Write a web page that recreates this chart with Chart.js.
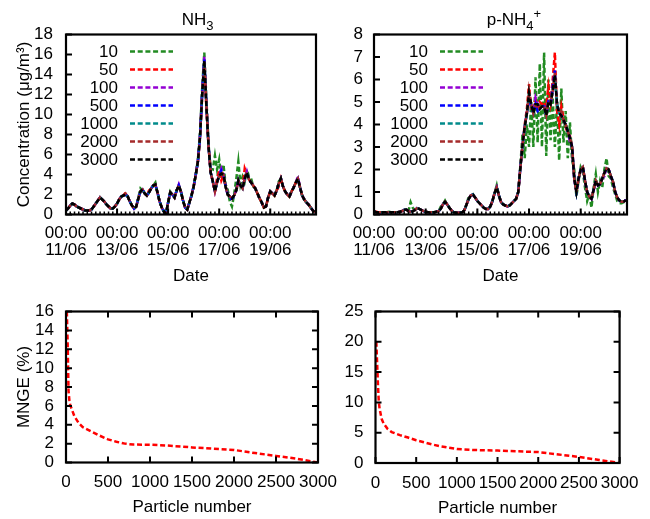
<!DOCTYPE html>
<html>
<head>
<meta charset="utf-8">
<script src="https://cdn.jsdelivr.net/npm/chart.js@4.4.1/dist/chart.umd.min.js"></script>
<style>
  html, body { margin: 0; padding: 0; background: #fff; }
  #wrap { position: relative; width: 650px; height: 519px; }
  canvas { position: absolute; left: 0; top: 0; }
</style>
</head>
<body>
<div id="wrap">
  <canvas id="c1" width="650" height="519"></canvas>
  <canvas id="c2" width="650" height="519"></canvas>
  <canvas id="c3" width="650" height="519"></canvas>
  <canvas id="c4" width="650" height="519"></canvas>
</div>
<script>
// ---------------- DATA ----------------
// hours since 11/06 00:00
const hours = [0,2,4,6,8,10,12,14,16,18,20,22,24,26,28,30,32,34,36,38,40,42,44,46,48,50,52,54,56,58,
  60,62,64,66,68,70,72,74,76,78,80,82,84,86,88,90,92,94,96,98,100,102,104,106,108,110,112,114,116,118,
  120,122,124,126,128,130,132,134,136,138,140,142,144,146,148,150,152,154,156,158,160,162,164,166,168,170,172,174,176,178,
  180,182,184,186,188,190,192,194,196,198,200,202,204,206,208,210,212,214,216,218,220,222,224,226,228,230,232,234];

const seriesNames = ['10','50','100','500','1000','2000','3000'];
const seriesColors = ['#228B22','#FF0000','#9400D3','#0000FF','#008B8B','#A52A2A','#000000'];

const dateTickHours = [0,48,96,144,192];
const dateTickLabels = [['00:00','11/06'],['00:00','13/06'],['00:00','15/06'],['00:00','17/06'],['00:00','19/06']];

// NH3 concentration (ug/m3)
const nh3_10 = [0.4,0.6,0.9,1.1,1.0,0.8,0.7,0.6,0.5,0.4,
  0.4,0.4,0.5,0.8,1.1,1.4,1.7,1.5,1.3,1.0,
  0.8,0.6,0.6,0.8,1.1,1.5,1.8,1.9,2.0,1.8,
  1.3,0.9,0.6,0.8,1.7,2.6,2.4,2.1,1.9,2.2,
  2.6,2.9,3.2,2.2,1.3,0.7,0.3,0.1,1.2,2.3,
  2.0,1.7,2.4,2.9,2.3,1.4,0.7,0.5,1.2,1.9,
  2.8,4.0,5.5,8.2,12.6,16.2,11.5,7.0,4.6,4.5,
  5.9,4.5,5.5,3.6,5.0,3.0,2.5,1.3,0.8,2.0,
  3.5,5.3,3.0,3.8,3.3,4.5,3.8,3.6,2.8,2.6,
  2.1,1.6,1.2,0.7,0.8,1.7,2.3,2.1,1.9,2.4,
  3.3,3.6,2.8,2.3,2.0,1.8,2.3,2.7,3.2,3.4,
  2.7,1.9,1.5,1.2,1.0,0.7,0.4,0.2];
const nh3_50 = [0.4,0.6,0.9,1.1,1.0,0.8,0.7,0.6,0.5,0.4,
  0.4,0.4,0.5,0.8,1.1,1.4,1.7,1.5,1.3,1.0,
  0.8,0.6,0.6,0.8,1.1,1.5,1.8,1.9,2.2,1.8,
  1.3,0.9,0.6,0.8,1.6,2.3,2.5,2.1,1.9,2.4,
  2.6,2.9,3.0,2.2,1.3,0.7,0.3,0.1,1.2,2.2,
  2.0,1.7,2.4,2.9,2.3,1.4,0.7,0.5,1.2,1.9,
  2.8,4.0,5.3,7.6,11.8,15.0,10.6,6.8,4.2,3.3,
  2.3,3.6,4.4,3.4,3.9,2.8,2.0,1.8,1.6,1.9,
  2.4,3.0,2.9,2.6,4.6,4.0,3.5,3.2,2.9,2.6,
  2.1,1.6,1.2,0.7,0.8,1.7,2.3,2.1,1.9,2.4,
  2.8,3.6,2.8,2.3,2.0,1.8,2.3,2.7,3.2,3.6,
  2.7,1.9,1.5,1.2,1.0,0.7,0.4,0.2];
const nh3_100 = [0.4,0.6,0.9,1.1,1.0,0.8,0.7,0.6,0.5,0.4,
  0.4,0.4,0.5,0.8,1.1,1.4,1.7,1.5,1.3,1.0,
  0.8,0.6,0.6,0.8,1.1,1.5,1.8,1.9,2.0,1.8,
  1.3,0.9,0.6,0.8,1.6,2.3,2.5,2.1,1.9,2.2,
  2.6,2.9,3.0,2.2,1.3,0.7,0.3,0.1,1.2,2.2,
  2.0,1.7,2.4,3.0,2.3,1.4,0.7,0.5,1.2,1.9,
  2.8,4.0,5.3,7.9,12.2,15.8,11.0,6.8,4.2,3.3,
  2.3,3.2,3.9,4.6,4.0,2.8,2.0,1.8,1.6,1.9,
  2.4,3.4,2.9,2.6,3.6,4.3,3.5,3.2,2.9,2.6,
  2.1,1.6,1.2,0.7,0.8,1.7,2.3,2.1,1.9,2.4,
  3.1,3.6,2.8,2.3,2.0,1.8,2.3,2.7,3.2,3.8,
  2.7,1.9,1.5,1.2,1.0,0.7,0.4,0.2];
const nh3_500 = [0.4,0.6,0.9,1.1,1.0,0.8,0.7,0.6,0.5,0.4,
  0.4,0.4,0.5,0.8,1.1,1.4,1.7,1.5,1.3,1.0,
  0.8,0.6,0.6,0.8,1.1,1.5,1.8,1.9,2.0,1.8,
  1.3,0.9,0.6,0.8,1.6,2.3,2.5,2.1,1.9,2.2,
  2.6,2.9,3.0,2.2,1.3,0.7,0.3,0.1,1.2,2.2,
  2.0,1.7,2.4,2.9,2.3,1.4,0.7,0.5,1.2,1.9,
  2.8,4.0,5.3,7.8,12.1,15.5,10.9,6.8,4.2,3.3,
  2.3,3.2,3.9,4.4,4.0,2.8,2.0,1.8,1.4,1.9,
  2.4,3.4,2.9,2.6,3.6,4.2,3.5,3.2,2.9,2.6,
  2.1,1.6,1.2,0.7,0.8,1.7,2.3,2.1,1.9,2.4,
  3.1,3.6,2.8,2.3,2.0,1.8,2.3,2.7,3.2,3.6,
  2.7,1.9,1.5,1.2,1.0,0.7,0.4,0.2];
const nh3_1000 = [0.4,0.6,0.9,1.1,1.0,0.8,0.7,0.6,0.5,0.4,
  0.4,0.4,0.5,0.8,1.1,1.4,1.7,1.5,1.3,1.0,
  0.8,0.6,0.6,0.8,1.1,1.5,1.8,1.9,2.0,1.8,
  1.3,0.9,0.6,0.8,1.6,2.3,2.5,2.1,1.9,2.2,
  2.6,2.9,3.0,2.2,1.3,0.7,0.3,0.1,1.2,2.2,
  2.0,1.7,2.4,2.9,2.3,1.4,0.7,0.5,1.2,1.9,
  2.8,4.0,5.3,7.8,12.0,15.3,10.8,6.8,4.2,3.3,
  2.3,3.2,3.8,4.1,4.0,2.8,2.0,1.8,1.6,1.9,
  2.4,3.4,2.9,2.6,3.6,4.2,3.5,3.2,2.9,2.6,
  2.1,1.6,1.2,0.7,0.8,1.7,2.3,2.1,1.9,2.4,
  3.1,3.6,2.8,2.3,2.0,1.8,2.3,2.7,3.2,3.5,
  2.7,1.9,1.5,1.2,1.0,0.7,0.4,0.2];
const nh3_2000 = [0.4,0.6,0.9,1.1,1.0,0.8,0.7,0.6,0.5,0.4,
  0.4,0.4,0.5,0.8,1.1,1.4,1.7,1.5,1.3,1.0,
  0.8,0.6,0.6,0.8,1.1,1.5,1.8,1.9,2.1,1.8,
  1.3,0.9,0.6,0.8,1.6,2.3,2.5,2.1,1.9,2.2,
  2.6,2.9,3.0,2.2,1.3,0.7,0.3,0.1,1.2,2.2,
  2.0,1.7,2.4,2.9,2.3,1.4,0.7,0.5,1.2,1.9,
  2.8,4.0,5.3,7.8,12.0,15.2,10.8,6.8,4.2,3.3,
  2.3,3.2,3.9,4.3,4.0,2.8,2.0,1.8,1.6,1.9,
  2.4,3.4,2.9,2.6,3.6,4.2,3.5,3.2,2.9,2.6,
  2.1,1.6,1.2,0.7,0.8,1.7,2.3,2.1,1.9,2.4,
  3.1,3.6,2.8,2.3,2.0,1.8,2.3,2.7,3.2,3.6,
  2.7,1.9,1.5,1.2,1.0,0.7,0.4,0.2];
const nh3_3000 = [0.4,0.6,0.9,1.1,1.0,0.8,0.7,0.6,0.5,0.4,
  0.4,0.4,0.5,0.8,1.1,1.4,1.7,1.5,1.3,1.0,
  0.8,0.6,0.6,0.8,1.1,1.5,1.8,1.9,2.0,1.8,
  1.3,0.9,0.6,0.8,1.6,2.3,2.5,2.1,1.9,2.2,
  2.6,2.9,3.0,2.2,1.3,0.7,0.3,0.1,1.2,2.2,
  2.0,1.7,2.4,2.9,2.3,1.4,0.7,0.5,1.2,1.9,
  2.8,4.0,5.3,7.8,12.0,15.4,10.8,6.8,4.2,3.3,
  2.3,3.2,3.9,4.1,4.0,2.8,2.0,1.8,1.6,1.9,
  2.4,3.4,2.9,2.6,3.6,4.2,3.5,3.2,2.9,2.6,
  2.1,1.6,1.2,0.7,0.8,1.7,2.3,2.1,1.9,2.4,
  3.1,3.6,2.8,2.3,2.0,1.8,2.3,2.7,3.2,3.6,
  2.7,1.9,1.5,1.2,1.0,0.7,0.4,0.2];

// p-NH4+ concentration (ug/m3)
const pnh4_10 = [0.15,0.1,0.1,0.1,0.1,0.1,0.1,0.12,0.1,0.1,
  0.1,0.1,0.12,0.15,0.2,0.25,0.15,0.55,0.3,0.2,
  0.3,0.25,0.2,0.15,0.12,0.1,0.1,0.1,0.1,0.12,
  0.15,0.35,0.45,0.62,0.45,0.3,0.18,0.1,0.08,0.08,
  0.08,0.1,0.2,0.45,0.8,0.85,0.9,0.75,0.6,0.5,
  0.4,0.3,0.25,0.25,0.35,0.6,0.95,1.3,0.85,0.55,
  0.45,0.4,0.36,0.4,0.5,0.6,0.7,1.0,2.2,3.6,
  2.5,4.0,3.0,5.0,3.0,6.1,3.2,6.7,3.0,7.2,
  2.6,6.0,3.3,5.2,3.0,5.0,2.4,5.6,3.2,4.6,
  2.5,4.1,2.4,2.0,0.8,1.5,2.1,1.9,1.2,0.6,
  0.9,0.3,1.2,1.8,1.0,1.5,1.2,2.0,2.5,1.7,
  1.6,1.2,0.9,0.6,0.5,0.5,0.55,0.6];
const pnh4_50 = [0.22,0.12,0.1,0.1,0.1,0.1,0.1,0.1,0.1,0.1,
  0.1,0.1,0.12,0.15,0.2,0.22,0.15,0.12,0.15,0.2,
  0.28,0.25,0.2,0.15,0.12,0.1,0.1,0.1,0.1,0.12,
  0.15,0.25,0.45,0.57,0.45,0.3,0.18,0.1,0.08,0.08,
  0.08,0.1,0.2,0.45,0.7,0.85,0.88,0.75,0.6,0.5,
  0.4,0.3,0.25,0.25,0.35,0.6,0.95,1.2,0.85,0.55,
  0.45,0.4,0.36,0.4,0.5,0.6,0.7,1.0,2.1,3.1,
  4.0,4.7,5.8,4.6,4.8,5.1,4.6,5.0,4.9,5.0,
  4.8,5.7,5.0,6.0,7.2,4.6,4.0,4.8,4.3,3.9,
  3.6,3.5,3.0,1.6,1.0,1.6,2.0,2.1,1.5,1.0,
  0.8,0.7,1.1,1.5,1.3,1.35,1.6,1.85,2.05,2.0,
  1.7,1.45,1.0,0.75,0.62,0.57,0.58,0.64];
const pnh4_100 = [0.15,0.1,0.1,0.1,0.1,0.1,0.1,0.1,0.1,0.1,
  0.1,0.1,0.12,0.15,0.2,0.22,0.15,0.12,0.15,0.2,
  0.28,0.25,0.2,0.15,0.12,0.1,0.1,0.1,0.1,0.12,
  0.15,0.25,0.45,0.57,0.45,0.3,0.18,0.1,0.08,0.08,
  0.08,0.1,0.2,0.45,0.7,0.85,0.88,0.75,0.6,0.5,
  0.4,0.3,0.25,0.25,0.35,0.6,0.95,1.2,0.85,0.55,
  0.45,0.4,0.36,0.4,0.5,0.6,0.7,1.0,2.1,3.1,
  3.9,4.5,5.2,4.9,4.6,5.2,4.9,4.7,4.8,4.9,
  4.5,5.0,4.9,5.5,6.0,4.9,4.5,4.4,4.2,4.0,
  3.7,3.2,3.0,1.6,1.0,1.6,2.0,2.1,1.5,1.0,
  0.8,0.7,1.1,1.3,1.3,1.35,1.6,1.7,2.05,2.0,
  1.7,1.45,1.0,0.75,0.62,0.57,0.58,0.64];
const pnh4_500 = [0.15,0.1,0.1,0.1,0.1,0.1,0.1,0.1,0.1,0.1,
  0.1,0.1,0.12,0.15,0.2,0.22,0.15,0.12,0.15,0.2,
  0.28,0.25,0.2,0.15,0.12,0.1,0.1,0.1,0.1,0.12,
  0.15,0.25,0.45,0.57,0.45,0.3,0.18,0.1,0.08,0.08,
  0.08,0.1,0.2,0.45,0.7,0.85,0.88,0.75,0.6,0.5,
  0.4,0.3,0.25,0.25,0.35,0.6,0.95,1.2,0.85,0.55,
  0.45,0.4,0.36,0.4,0.5,0.6,0.7,1.0,2.1,3.1,
  3.9,4.5,5.2,4.8,4.5,4.9,4.6,4.7,4.8,4.8,
  4.4,5.0,4.9,5.7,6.4,4.9,4.5,4.4,4.2,4.0,
  3.7,3.4,3.0,1.6,1.0,1.6,2.0,2.1,1.5,1.0,
  0.8,0.7,1.1,1.5,1.3,1.35,1.6,1.85,2.05,2.0,
  1.7,1.45,1.0,0.75,0.62,0.57,0.58,0.64];
const pnh4_1000 = [0.15,0.1,0.1,0.1,0.1,0.1,0.1,0.1,0.1,0.1,
  0.1,0.1,0.12,0.15,0.2,0.22,0.15,0.12,0.15,0.2,
  0.28,0.25,0.2,0.15,0.12,0.1,0.1,0.1,0.1,0.12,
  0.15,0.25,0.45,0.57,0.45,0.3,0.18,0.1,0.08,0.08,
  0.08,0.1,0.2,0.45,0.7,0.85,0.88,0.75,0.6,0.5,
  0.4,0.3,0.25,0.25,0.35,0.6,0.95,1.2,0.85,0.55,
  0.45,0.4,0.36,0.4,0.5,0.6,0.7,1.0,2.1,3.1,
  3.9,4.5,5.4,4.8,4.5,4.9,4.9,4.7,4.8,4.8,
  4.4,5.0,4.9,5.5,6.1,4.9,4.5,4.4,4.2,4.0,
  3.7,3.4,3.0,1.6,1.0,1.6,2.0,2.1,1.5,1.0,
  0.8,0.7,1.1,1.5,1.3,1.35,1.6,1.85,2.05,2.0,
  1.7,1.45,1.0,0.75,0.62,0.57,0.58,0.64];
const pnh4_2000 = [0.15,0.1,0.1,0.1,0.1,0.1,0.1,0.1,0.1,0.1,
  0.1,0.1,0.12,0.15,0.2,0.22,0.15,0.12,0.15,0.2,
  0.28,0.25,0.2,0.15,0.12,0.1,0.1,0.1,0.1,0.12,
  0.15,0.25,0.45,0.57,0.45,0.3,0.18,0.1,0.08,0.08,
  0.08,0.1,0.2,0.45,0.7,0.85,0.88,0.75,0.6,0.5,
  0.4,0.3,0.25,0.25,0.35,0.6,0.95,1.2,0.85,0.55,
  0.45,0.4,0.36,0.4,0.5,0.6,0.7,1.0,2.1,3.1,
  3.9,4.5,5.5,4.9,4.5,4.9,4.9,4.7,4.8,4.8,
  4.4,5.0,4.9,5.5,6.3,4.9,4.5,4.6,4.2,4.0,
  3.7,3.4,3.0,1.6,1.0,1.6,2.0,2.1,1.5,1.0,
  0.8,0.7,1.1,1.5,1.3,1.35,1.6,1.85,2.05,2.0,
  1.7,1.45,1.0,0.75,0.62,0.57,0.58,0.64];
const pnh4_3000 = [0.15,0.1,0.1,0.1,0.1,0.1,0.1,0.1,0.1,0.1,
  0.1,0.1,0.12,0.15,0.2,0.22,0.15,0.12,0.15,0.2,
  0.28,0.25,0.2,0.15,0.12,0.1,0.1,0.1,0.1,0.12,
  0.15,0.25,0.45,0.57,0.45,0.3,0.18,0.1,0.08,0.08,
  0.08,0.1,0.2,0.45,0.7,0.85,0.88,0.75,0.6,0.5,
  0.4,0.3,0.25,0.25,0.35,0.6,0.95,1.2,0.85,0.55,
  0.45,0.4,0.36,0.4,0.5,0.6,0.7,1.0,2.1,3.1,
  3.9,4.5,5.4,4.9,4.5,4.9,4.9,4.7,4.8,4.8,
  4.4,5.0,4.9,5.5,6.2,4.9,4.5,4.4,4.2,4.0,
  3.7,3.4,3.0,1.6,1.0,1.6,2.0,2.1,1.5,1.0,
  0.8,0.7,1.1,1.5,1.3,1.35,1.6,1.85,2.05,2.0,
  1.7,1.45,1.0,0.75,0.62,0.57,0.58,0.64];

// MNGE (%) vs particle number
const particleNumbers = [10,20,30,40,50,75,100,150,200,300,400,500,600,700,800,1000,1200,1500,2000,2250,2500,2750,3000];
const mngeNH3  = [16.0,12.5,7.6,6.6,6.1,5.5,4.9,4.2,3.75,3.3,2.85,2.45,2.2,2.0,1.9,1.88,1.8,1.6,1.33,1.0,0.7,0.4,0.0];
const mngePNH4 = [20.0,16.5,13.0,10.2,9.0,7.3,6.5,5.6,5.1,4.6,4.2,3.75,3.4,3.05,2.75,2.3,2.15,2.05,1.8,1.4,1.0,0.5,0.0];

// ---------------- STYLE / HELPERS ----------------
const FONT = '"Liberation Sans", Arial, Helvetica, sans-serif';
Chart.defaults.font.family = FONT;
Chart.defaults.font.size = 17;
Chart.defaults.color = '#000';

const toPoints = (xs, ys) => xs.map((x, i) => ({x: x, y: ys[i]}));
const plainNum = v => String(v);
const DASH = [5, 2.7];
const dashOffsets = [3, 6, 1.5, 4.5, 0.8, 5.3, 0];

const framePlugin = {
  id: 'frame',
  afterDatasetsDraw(chart, args, o) {
    const {ctx, chartArea: a, scales} = chart;
    const xs = scales.x, ys = scales.y;
    ctx.save();
    ctx.strokeStyle = '#000';
    ctx.lineWidth = 2;
    ctx.setLineDash([]);
    ctx.beginPath();
    const L = 6;
    xs.ticks.forEach(t => {
      const p = xs.getPixelForValue(t.value);
      ctx.moveTo(p, a.bottom); ctx.lineTo(p, a.bottom - L);
      if (o.mirror) { ctx.moveTo(p, a.top); ctx.lineTo(p, a.top + L); }
    });
    ys.ticks.forEach(t => {
      const p = ys.getPixelForValue(t.value);
      ctx.moveTo(a.left, p); ctx.lineTo(a.left + L, p);
      if (o.mirror) { ctx.moveTo(a.right, p); ctx.lineTo(a.right - L, p); }
    });
    ctx.stroke();
    if (o.minorStep) {
      ctx.lineWidth = 1.5;
      ctx.beginPath();
      for (let v = xs.min; v <= xs.max; v += o.minorStep) {
        const p = xs.getPixelForValue(v);
        ctx.moveTo(p, a.bottom); ctx.lineTo(p, a.bottom - 3);
      }
      ctx.stroke();
    }
    ctx.lineWidth = 2.2;
    ctx.strokeRect(a.left, a.top, a.right - a.left, a.bottom - a.top);
    ctx.restore();
  }
};

const decorPlugin = {
  id: 'decor',
  afterDraw(chart, args, o) {
    const {ctx, chartArea: a} = chart;
    ctx.save();
    ctx.fillStyle = '#000';
    if (o.title) {
      let x = a.left + o.title.dx;
      const y = o.title.y;
      ctx.textAlign = 'left';
      ctx.textBaseline = 'alphabetic';
      o.title.parts.forEach(p => {
        ctx.font = p.size + 'px ' + FONT;
        ctx.fillText(p.text, x, y + p.dy);
        x += ctx.measureText(p.text).width;
      });
    }
    if (o.legend) {
      const g = o.legend;
      chart.data.datasets.forEach((ds, i) => {
        const y = a.top + g.top + i * g.step;
        ctx.font = '17px ' + FONT;
        ctx.textAlign = 'right';
        ctx.textBaseline = 'middle';
        ctx.fillStyle = '#000';
        ctx.fillText(ds.label, a.left + g.textRight, y + 1);
        ctx.strokeStyle = ds.borderColor;
        ctx.lineWidth = 2.5;
        ctx.setLineDash(DASH);
        ctx.beginPath();
        ctx.moveTo(a.left + g.lineFrom, y);
        ctx.lineTo(a.left + g.lineTo, y);
        ctx.stroke();
      });
    }
    ctx.restore();
  }
};

function timeDatasets(arrs) {
  return arrs.map((arr, i) => ({
    label: seriesNames[i],
    data: toPoints(hours, arr),
    borderColor: seriesColors[i],
    borderWidth: 2.5,
    borderDash: DASH,
    borderDashOffset: dashOffsets[i],
    pointRadius: 0,
    tension: 0,
    fill: false,
    order: arrs.length - i
  }));
}

function timeChart(id, arrs, yMax, yStep, pad, yTitle, yTickPad, title, legend) {
  return new Chart(document.getElementById(id), {
    type: 'line',
    data: { datasets: timeDatasets(arrs) },
    plugins: [framePlugin, decorPlugin],
    options: {
      responsive: false, animation: false, devicePixelRatio: 1,
      layout: { padding: pad },
      plugins: {
        legend: { display: false }, tooltip: { enabled: false },
        frame: { mirror: false, minorStep: 4 },
        decor: { title: title, legend: legend }
      },
      scales: {
        x: {
          type: 'linear', min: 0, max: 235,
          grid: { display: false, drawTicks: false }, border: { display: false },
          afterBuildTicks: s => { s.ticks = dateTickHours.map(v => ({ value: v })); },
          afterFit: s => { s.height = 70; },
          ticks: {
            autoSkip: false, maxRotation: 0, padding: 10.5,
            font: { size: 17, lineHeight: 1 },
            callback: v => dateTickLabels[dateTickHours.indexOf(v)]
          },
          title: { display: true, text: 'Date', font: { size: 17, lineHeight: 1 }, padding: { top: 0, bottom: 0 } }
        },
        y: {
          type: 'linear', min: 0, max: yMax,
          grid: { display: false, drawTicks: false }, border: { display: false },
          afterFit: s => { s.width = 60; },
          ticks: { stepSize: yStep, autoSkip: false, padding: yTickPad, font: { size: 17, lineHeight: 1 }, callback: plainNum },
          title: { display: !!yTitle, text: yTitle || '', font: { size: 17, lineHeight: 1 }, padding: { top: 9.5, bottom: 0 } }
        }
      }
    }
  });
}

function mngeChart(id, vals, yMax, yStep, pad, yTitle, yTickPad) {
  return new Chart(document.getElementById(id), {
    type: 'line',
    data: { datasets: [{
      label: 'MNGE',
      data: toPoints(particleNumbers, vals),
      borderColor: '#FF0000', borderWidth: 2.5, borderDash: DASH,
      pointRadius: 0, tension: 0, fill: false
    }] },
    plugins: [framePlugin],
    options: {
      responsive: false, animation: false, devicePixelRatio: 1,
      layout: { padding: pad },
      plugins: { legend: { display: false }, tooltip: { enabled: false }, frame: { mirror: true } },
      scales: {
        x: {
          type: 'linear', min: 0, max: 3000,
          grid: { display: false, drawTicks: false }, border: { display: false },
          afterFit: s => { s.height = 56; },
          ticks: { stepSize: 500, autoSkip: false, maxRotation: 0, padding: 11.5, font: { size: 17, lineHeight: 1 }, callback: plainNum },
          title: { display: true, text: 'Particle number', font: { size: 17, lineHeight: 1 }, padding: { top: 0, bottom: 2.5 } }
        },
        y: {
          type: 'linear', min: 0, max: yMax,
          grid: { display: false, drawTicks: false }, border: { display: false },
          afterFit: s => { s.width = 60; },
          ticks: { stepSize: yStep, autoSkip: false, padding: yTickPad, font: { size: 17, lineHeight: 1 }, callback: plainNum },
          title: { display: !!yTitle, text: yTitle || '', font: { size: 17, lineHeight: 1 }, padding: { top: 9.5, bottom: 0 } }
        }
      }
    }
  });
}

timeChart('c1', [nh3_10, nh3_50, nh3_100, nh3_500, nh3_1000, nh3_2000, nh3_3000], 18, 2,
  { left: 6, right: 334, top: 34.5, bottom: 234.5 }, 'Concentration (μg/m³)', 13,
  { dx: 115.7, y: 25, parts: [{ text: 'NH', size: 17, dy: 0 }, { text: '3', size: 13, dy: 4.5 }] },
  { top: 17, step: 18, textRight: 52, lineFrom: 64, lineTo: 107 });

timeChart('c2', [pnh4_10, pnh4_50, pnh4_100, pnh4_500, pnh4_1000, pnh4_2000, pnh4_3000], 8, 1,
  { left: 314, right: 23, top: 34.5, bottom: 234.5 }, null, 11,
  { dx: 112.7, y: 25, parts: [{ text: 'p-NH', size: 17, dy: 0 }, { text: '4', size: 13, dy: 4.5 }, { text: '+', size: 13, dy: -7 }] },
  { top: 17, step: 18, textRight: 54, lineFrom: 66, lineTo: 109 });

mngeChart('c3', mngeNH3, 16, 2, { left: 6, right: 332, top: 311.5, bottom: 0.5 }, 'MNGE (%)', 12);
mngeChart('c4', mngePNH4, 25, 5, { left: 315.5, right: 22, top: 311.5, bottom: 0 }, null, 12);
</script>
</body>
</html>
